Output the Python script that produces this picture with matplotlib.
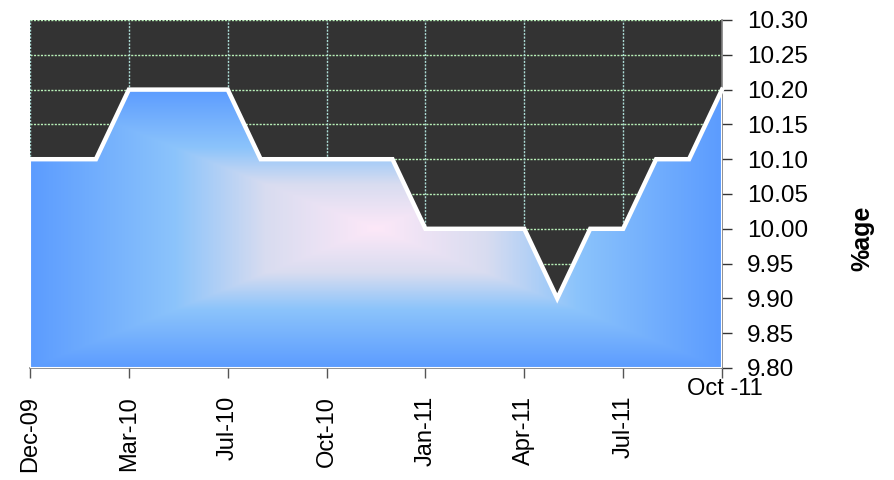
import numpy as np
import matplotlib.pyplot as plt
from matplotlib.colors import LinearSegmentedColormap

plt.rcParams['font.family'] = ['Liberation Sans', 'DejaVu Sans']

# monthly rate readings, Dec-09 .. Oct-11 (category axis)
rates = [10.10, 10.10, 10.10, 10.20, 10.20, 10.20, 10.20, 10.10, 10.10, 10.10, 10.10,
         10.10, 10.00, 10.00, 10.00, 10.00, 9.90, 10.00, 10.00, 10.10, 10.10, 10.20]
tick_pos = [0, 3, 6, 9, 12, 15, 18, 21]
tick_labels = ['Dec-09', 'Mar-10', 'Jul-10', 'Oct-10', 'Jan-11', 'Apr-11', 'Jul-11', 'Oct -11']
y_ticks = [9.80, 9.85, 9.90, 9.95, 10.00, 10.05, 10.10, 10.15, 10.20, 10.25, 10.30]

x = np.arange(len(rates))
ymin, ymax = 9.80, 10.30

fig = plt.figure(figsize=(8.95, 4.8), dpi=100)
ax = fig.add_axes([30 / 895, 1 - 368 / 480, 692 / 895, 348 / 480])
ax.set_facecolor('#333333')

# grid
for yv in y_ticks[1:]:
    ax.axhline(yv, color='#b8f0b8', lw=1.0, ls=(0, (1.5, 1)), zorder=1)
for xv in tick_pos[:-1]:
    ax.axvline(xv, color='#acdcd6', lw=1.0, ls=(0, (1.5, 1)), zorder=1)

# area with rectangular centre gradient
top = max(rates)
nx, ny = 400, 200
gx = np.linspace(-1, 1, nx)
gy = np.linspace(-1, 1, ny)
GX, GY = np.meshgrid(gx, gy)
t = np.maximum(np.abs(GX), np.abs(GY))
cmap = LinearSegmentedColormap.from_list(
    'fillgrad', [(0.0, '#fde8f8'), (0.32, '#d8dcf0'), (0.58, '#8cc4fb'), (1.0, '#5c9cff')])
img = ax.imshow(t, cmap=cmap, vmin=0, vmax=1, extent=[0, x[-1], ymin, top],
                origin='lower', aspect='auto', interpolation='bilinear', zorder=2)
poly = ax.fill_between(x, ymin, rates, facecolor='none', edgecolor='white', lw=1.5, zorder=3)
img.set_clip_path(poly.get_paths()[0], transform=ax.transData)
ax.plot(x, rates, color='white', lw=3.2, solid_joinstyle='miter', zorder=4, clip_on=False)

ax.set_xlim(0, x[-1])
ax.set_ylim(ymin, ymax)

# axes styling
for side in ['top', 'left']:
    ax.spines[side].set_visible(False)
for side in ['right', 'bottom']:
    ax.spines[side].set_color('#7f7f7f')
    ax.spines[side].set_linewidth(1.2)

ax.yaxis.tick_right()
ax.set_yticks(y_ticks)
ax.set_yticklabels(['%.2f' % v for v in y_ticks])
ax.tick_params(axis='y', direction='out', length=7, width=1, color='#333333',
               labelsize=17.5, pad=11)

ax.set_xticks(tick_pos)
ax.set_xticklabels(tick_labels[:-1] + [''], rotation=90)
ax.tick_params(axis='x', direction='out', length=7, width=1, color='#555555',
               labelsize=17, pad=13)
ax.text(x[-1] + 0.1, ymin - 0.014, tick_labels[-1], ha='center', va='top', fontsize=17,
        transform=ax.transData)

fig.text(862 / 895, 1 - 238 / 480, '%age', rotation=90, fontsize=18, fontweight='bold',
         ha='center', va='center')

fig.savefig('out.png', dpi=100)
